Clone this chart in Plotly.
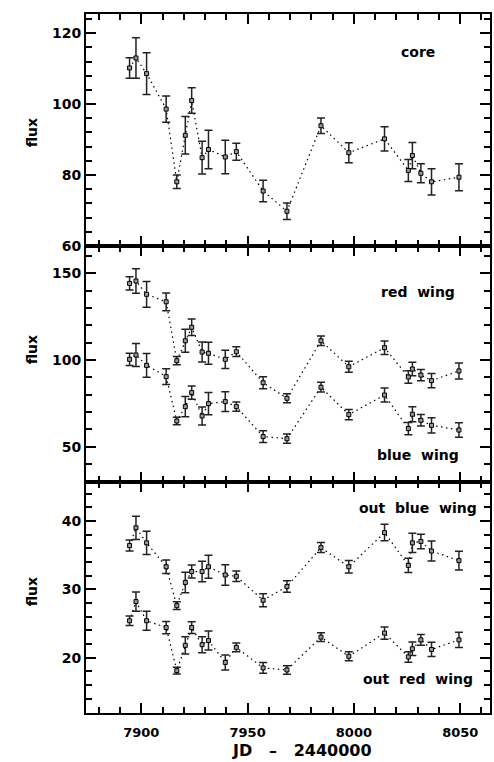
import plotly.graph_objects as go
from plotly.subplots import make_subplots

# Observation epochs (JD - 2440000)
jd = [7894.5, 7897.5, 7902.5, 7911.7, 7916.7, 7920.7, 7923.7, 7928.6, 7931.6,
      7939.5, 7944.7, 7957.3, 7968.5, 7984.5, 7997.6, 8014.4, 8025.6, 8027.5,
      8031.5, 8036.5, 8049.4]

# Line core
core = [110.2, 113.0, 108.6, 98.6, 78.1, 91.2, 101.0, 84.9, 87.2, 85.1, 86.6,
        75.5, 69.8, 93.9, 86.3, 90.2, 81.3, 85.5, 80.5, 78.1, 79.4]
core_err = [2.9, 5.7, 5.9, 3.7, 1.9, 5.3, 3.6, 4.6, 5.4, 4.7, 2.4, 3.0, 2.3,
            2.2, 2.8, 3.4, 3.1, 3.7, 2.7, 3.7, 3.8]

# Red and blue wings
red_wing = [144.2, 145.6, 137.9, 133.6, 99.6, 111.1, 118.9, 104.6, 103.9, 100.4,
            104.8, 86.9, 77.9, 111.1, 96.1, 107.1, 90.2, 94.8, 91.3, 88.1, 93.7]
red_wing_err = [3.8, 7.1, 7.4, 5.1, 2.4, 6.6, 4.8, 5.8, 6.3, 5.3, 2.8, 3.5, 2.6,
                2.7, 3.2, 3.9, 3.6, 3.9, 3.2, 4.1, 4.6]
blue_wing = [100.4, 102.9, 96.9, 90.4, 64.8, 73.1, 81.2, 67.7, 74.8, 76.0, 73.1,
             55.8, 54.6, 84.3, 68.5, 79.8, 60.4, 68.7, 65.2, 62.3, 59.6]
blue_wing_err = [3.5, 6.7, 6.9, 4.5, 2.2, 5.8, 3.8, 5.2, 6.4, 5.7, 2.7, 3.4, 2.7,
                 2.8, 3.0, 4.0, 3.5, 4.3, 3.3, 4.4, 4.2]

# Outer wings
out_blue = [36.4, 39.0, 36.8, 33.3, 27.6, 31.0, 32.6, 32.6, 33.3, 32.1, 31.9,
            28.4, 30.4, 36.1, 33.3, 38.3, 33.5, 36.8, 37.0, 35.6, 34.2]
out_blue_err = [0.8, 1.7, 1.7, 1.0, 0.56, 1.5, 0.95, 1.5, 1.7, 1.5, 0.76, 0.95,
                0.85, 0.73, 0.93, 1.2, 1.05, 1.4, 1.05, 1.45, 1.37]
out_red = [25.4, 28.2, 25.4, 24.4, 18.1, 21.8, 24.4, 21.9, 22.5, 19.3, 21.5,
           18.5, 18.2, 23.0, 20.2, 23.6, 20.1, 21.3, 22.6, 21.2, 22.6]
out_red_err = [0.68, 1.4, 1.4, 0.9, 0.5, 1.27, 0.85, 1.17, 1.4, 1.1, 0.63, 0.78,
               0.63, 0.63, 0.66, 0.9, 0.78, 0.98, 0.78, 1.05, 1.1]

W, H = 494, 762
ML, MR, MT, MB = 86, 2, 14, 49
FONT = dict(family="DejaVu Sans", size=14, color="black", weight="bold")
XFONT = dict(family="DejaVu Sans", size=13, color="black", weight="bold")
TITLE_FONT = dict(family="DejaVu Sans", size=16, color="black", weight="bold")

fig = make_subplots(rows=3, cols=1, shared_xaxes=True, vertical_spacing=0,
                    row_heights=[232, 236, 231])


def add_series(y, err, row):
    fig.add_trace(go.Scatter(x=jd, y=y, mode="lines",
                             line=dict(color="black", dash="1.5px,3.5px", width=1.2),
                             hoverinfo="skip", showlegend=False),
                  row=row, col=1)
    fig.add_trace(go.Scatter(x=jd, y=y, mode="markers",
                             marker=dict(symbol="square", size=4, color="#9a9a9a",
                                         line=dict(color="black", width=1)),
                             error_y=dict(type="data", array=err, color="#222222",
                                          thickness=1.5, width=4),
                             showlegend=False),
                  row=row, col=1)


add_series(core, core_err, 1)
add_series(red_wing, red_wing_err, 2)
add_series(blue_wing, blue_wing_err, 2)
add_series(out_blue, out_blue_err, 3)
add_series(out_red, out_red_err, 3)

axis_common = dict(showline=True, linewidth=2, linecolor="black", mirror="allticks",
                   ticks="inside", ticklen=10, tickwidth=1.5, tickcolor="black",
                   showgrid=False, zeroline=False)

for r in (1, 2, 3):
    fig.update_xaxes(range=[7874, 8064], dtick=50, tick0=7900, tickfont=XFONT,
                     ticklabelstandoff=6,
                     minor=dict(dtick=10, tick0=7900, ticks="inside", ticklen=6,
                                tickwidth=1.5, tickcolor="black"),
                     showticklabels=(r == 3), row=r, col=1, **axis_common)

y_specs = {1: ([60, 125.4], 20, 4), 2: ([29.6, 165.8], 50, 10), 3: ([11.9, 45.7], 10, 2)}
for r, (rng, dt, mdt) in y_specs.items():
    fig.update_yaxes(range=rng, dtick=dt, tick0=0, tickfont=FONT,
                     minor=dict(dtick=mdt, tick0=0, ticks="inside", ticklen=6,
                                tickwidth=1.5, tickcolor="black"),
                     row=r, col=1, **axis_common)

plot_w = W - ML - MR
plot_h = H - MT - MB


def px_x(x):
    return (x - ML) / plot_w


def px_y(y):
    return (H - MB - y) / plot_h


labels = [("core", 52), ("red  wing", 292), ("blue  wing", 455),
          ("out  blue  wing", 508), ("out  red  wing", 679)]
for text, y in labels:
    fig.add_annotation(text=text, x=px_x(420), y=px_y(y), xref="paper", yref="paper",
                       showarrow=False, font=FONT, xanchor="center", yanchor="middle")

for y in (133, 350, 592):
    fig.add_annotation(text="flux", x=px_x(32), y=px_y(y), xref="paper", yref="paper",
                       showarrow=False, font=FONT, textangle=-90,
                       xanchor="center", yanchor="middle")

fig.add_annotation(text="JD   \u2013   2440000", x=px_x(303), y=px_y(761), xref="paper",
                   yref="paper", showarrow=False, font=TITLE_FONT,
                   xanchor="center", yanchor="bottom", borderpad=0)

fig.update_layout(width=W, height=H, margin=dict(l=ML, r=MR, t=MT, b=MB),
                  paper_bgcolor="white", plot_bgcolor="white", showlegend=False)

fig.write_html("out.html")
